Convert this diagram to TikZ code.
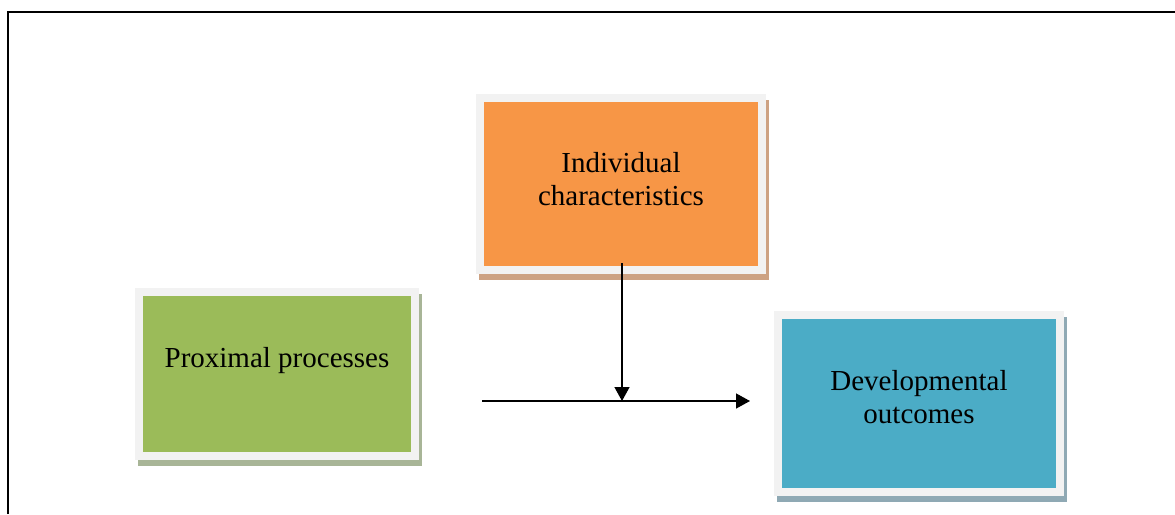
\documentclass[tikz,border=0pt]{standalone}
\usepackage{fontspec}
\setmainfont{Liberation Serif}
\usepackage{tikz}
\usetikzlibrary{arrows.meta, backgrounds}
\definecolor{bandgray}{HTML}{F2F2F2}
\definecolor{indivfill}{HTML}{F79646}
\definecolor{indivshade}{HTML}{CDA283}
\definecolor{proxfill}{HTML}{9BBB59}
\definecolor{proxshade}{HTML}{A8B597}
\definecolor{develfill}{HTML}{4BACC6}
\definecolor{develshade}{HTML}{8FA9B4}
\tikzstyle{factor} = [rectangle, draw=bandgray, line width=8pt, text centered, align=center, font=\fontsize{29}{33}\selectfont]
\tikzstyle{arrow} = [line width=1.4pt, -{Triangle[length=14pt,width=15pt]}]

\begin{document}
\begin{tikzpicture}[x=1pt, y=-1pt]
		\useasboundingbox (0,0) rectangle (1175,514);
		
		% Frame
		\draw [line width=2pt] (8,514) -- (8,12) -- (1175,12);
		
		% Nodes for the three factors
		\node (indiv) [factor, fill=indivfill, minimum width=282pt, minimum height=172pt, text depth=10pt] at (621,184) {Individual\\characteristics};
		\node (prox) [factor, fill=proxfill, minimum width=276pt, minimum height=164pt, text height=20pt, text depth=34pt] at (277,374) {Proximal processes};
		\node (devel) [factor, fill=develfill, minimum width=282pt, minimum height=177pt, text depth=13pt] at (919,403.5) {Developmental\\outcomes};
		
		% Shadows
		\begin{scope}[on background layer]
			\fill [indivshade] ([shift={(3,6)}]indiv.north west) rectangle ([shift={(3,6)}]indiv.south east);
			\fill [proxshade] ([shift={(3,6)}]prox.north west) rectangle ([shift={(3,6)}]prox.south east);
			\fill [develshade] ([shift={(3,6)}]devel.north west) rectangle ([shift={(3,6)}]devel.south east);
		\end{scope}
		
		% Arrow ends
		\coordinate (moderator) at (622,263);
		\coordinate (meet) at (622,401);
		\coordinate (from) at (482,401);
		\coordinate (to) at (750,401);
		
		% Arrows
		\draw [arrow] (from) -- (to);
		\draw [arrow] (moderator) -- (meet);
		
	\end{tikzpicture}
\end{document}
